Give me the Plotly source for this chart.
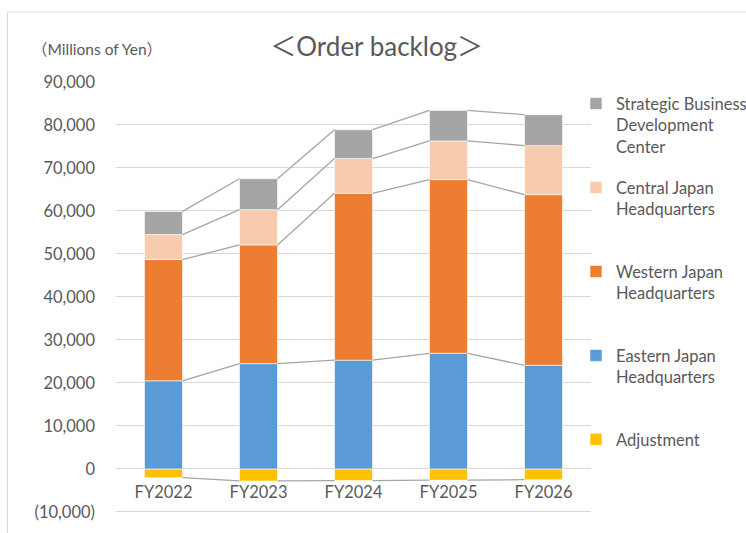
import plotly.graph_objects as go

categories = ["FY2022", "FY2023", "FY2024", "FY2025", "FY2026"]
adjustment = [-2000, -2800, -2700, -2600, -2500]
eastern = [20500, 24500, 25300, 26900, 24100]
western = [28200, 27600, 38800, 40400, 39700]
central = [5800, 8200, 8100, 9000, 11400]
strategic = [5400, 7200, 6700, 7100, 7200]

series_names = [
    "Adjustment<br> <br> ",
    "Eastern Japan<br>Headquarters<br> ",
    "Western Japan<br>Headquarters<br> ",
    "Central Japan<br>Headquarters<br> ",
    "Strategic Business<br>Development<br>Center",
]
series_values = [adjustment, eastern, western, central, strategic]
series_colors = ["#FFC000", "#5B9BD5", "#ED7D31", "#F8CBAD", "#A5A5A5"]

y_tickvals = [-10000, 0, 10000, 20000, 30000, 40000, 50000, 60000, 70000, 80000, 90000]
y_ticktext = ["(10,000)", "0", "10,000", "20,000", "30,000", "40,000", "50,000",
              "60,000", "70,000", "80,000", "90,000"]

FONT = "Lato, 'Noto Sans CJK JP', sans-serif"
TXT = "#595959"
BAR_W = 0.4
FS = 16.5

xs = list(range(len(categories)))
fig = go.Figure()

n = len(series_names)
for i, (name, vals, col) in enumerate(zip(series_names, series_values, series_colors)):
    fig.add_trace(go.Bar(
        x=xs, y=vals, name=name, width=BAR_W,
        marker=dict(color=col, line=dict(color="white", width=0.6)),
        legendgroup=f"g{i}", legendrank=n - i,
    ))

# series connector lines (cumulative levels)
levels = [adjustment]
cum = [0] * len(categories)
for vals in [eastern, western, central, strategic]:
    cum = [c + v for c, v in zip(cum, vals)]
    levels.append(list(cum))

for lv in levels:
    lx, ly = [], []
    for i in range(len(categories) - 1):
        lx += [xs[i] + BAR_W / 2, xs[i + 1] - BAR_W / 2, None]
        ly += [lv[i], lv[i + 1], None]
    fig.add_trace(go.Scatter(x=lx, y=ly, mode="lines", showlegend=False,
                             line=dict(color="#A5A5A5", width=1.3), hoverinfo="skip"))

fig.update_layout(
    barmode="relative",
    width=746, height=533,
    margin=dict(l=116, r=155, t=82, b=20, autoexpand=False),
    paper_bgcolor="white", plot_bgcolor="white",
    font=dict(family=FONT, color=TXT, size=FS),
    title=dict(text="＜Order backlog＞", x=0.505, y=0.912, xanchor="center", yanchor="middle",
               font=dict(size=26, color=TXT, family=FONT)),
    legend=dict(x=0.9684, y=0.99, xanchor="left", yanchor="top", traceorder="grouped",
                tracegroupgap=16.6, valign="top", font=dict(size=FS, color=TXT, family=FONT),
                bgcolor="rgba(0,0,0,0)"),
    showlegend=True,
    xaxis=dict(range=[-0.5, 4.5], tickvals=xs, ticktext=categories, anchor="free", position=0.1,
               showgrid=False, zeroline=False, showline=False, ticks="", ticklabelstandoff=12,
               tickfont=dict(size=FS, color=TXT)),
    yaxis=dict(range=[-10250, 90000], tickvals=y_tickvals, ticktext=y_ticktext,
               showgrid=True, gridcolor="#D9D9D9", gridwidth=1, zeroline=False, showline=False,
               ticks="", ticklabelstandoff=20, tickfont=dict(size=FS, color=TXT)),
    annotations=[dict(text="（Millions of Yen）", xref="paper", yref="paper",
                      x=(97 - 116) / 475, y=(513 - 49) / 431, xanchor="center", yanchor="middle",
                      showarrow=False, font=dict(size=15.5, color=TXT, family=FONT))],
    shapes=[dict(type="rect", xref="paper", yref="paper",
                 x0=(7.5 - 116) / 475, x1=(760 - 116) / 475,
                 y0=(513 - 545) / 431, y1=(513 - 12) / 431,
                 line=dict(color="#D9D9D9", width=1), fillcolor="rgba(0,0,0,0)", layer="below")],
)
# keep the free x axis on the zero line
fig.update_xaxes(position=(0 - (-10250)) / (90000 - (-10250)))

fig.write_html("out.html", config={"displayModeBar": False},
               post_script="document.body.style.margin='0';")
